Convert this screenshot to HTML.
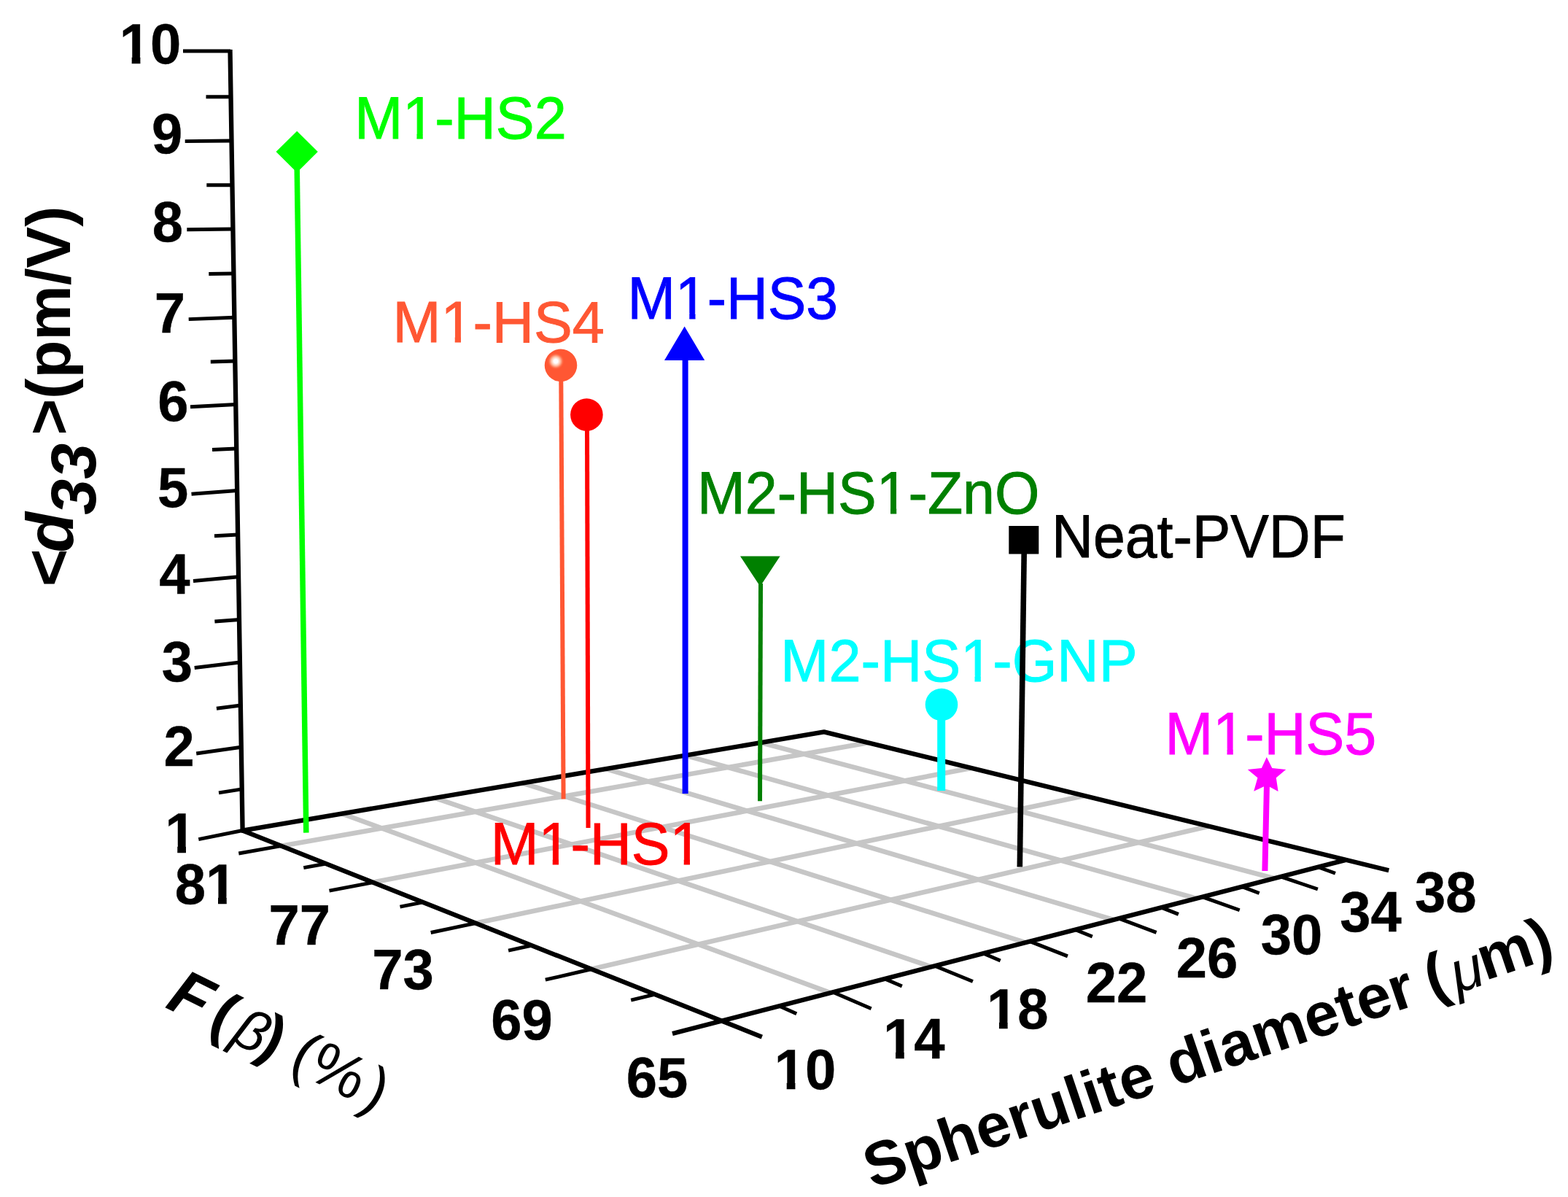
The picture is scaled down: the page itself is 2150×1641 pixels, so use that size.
<!DOCTYPE html>
<html lang="en">
<head>
<meta charset="utf-8">
<title>d33 vs F(beta) and spherulite diameter</title>
<style>
html,body{margin:0;padding:0;background:#ffffff;}
body{width:2150px;height:1641px;overflow:hidden;}
svg{display:block;}
text{white-space:pre;}
</style>
</head>
<body>
<svg width="2150" height="1641" viewBox="0 0 2150 1641">
<rect x="0" y="0" width="2150" height="1641" fill="#ffffff"/>
<defs><clipPath id="c0"><rect x="-60.00" y="-300.00" width="410.60" height="292.71"/><rect x="-60.00" y="3.17" width="410.60" height="116.83"/><rect x="-60.00" y="-7.29" width="128.38" height="10.46"/><rect x="85.34" y="-7.29" width="8.24" height="10.46"/><rect x="110.38" y="-7.29" width="240.23" height="10.46"/></clipPath><clipPath id="c1"><rect x="-60.00" y="-300.00" width="410.52" height="292.71"/><rect x="-60.00" y="3.17" width="410.52" height="116.83"/><rect x="-60.00" y="-7.29" width="128.36" height="10.46"/><rect x="85.31" y="-7.29" width="8.24" height="10.46"/><rect x="110.34" y="-7.29" width="240.17" height="10.46"/></clipPath><clipPath id="c2"><rect x="-60.00" y="-300.00" width="408.64" height="292.76"/><rect x="-60.00" y="3.15" width="408.64" height="116.85"/><rect x="-60.00" y="-7.24" width="127.92" height="10.39"/><rect x="84.76" y="-7.24" width="8.18" height="10.39"/><rect x="109.63" y="-7.24" width="239.01" height="10.39"/></clipPath><clipPath id="c3"><rect x="-60.00" y="-300.00" width="589.40" height="292.74"/><rect x="-60.00" y="3.16" width="589.40" height="116.84"/><rect x="-60.00" y="-7.26" width="308.01" height="10.42"/><rect x="264.91" y="-7.26" width="8.21" height="10.42"/><rect x="289.86" y="-7.26" width="239.54" height="10.42"/></clipPath><clipPath id="c4"><rect x="-60.00" y="-300.00" width="609.32" height="292.70"/><rect x="-60.00" y="3.17" width="609.32" height="116.83"/><rect x="-60.00" y="-7.30" width="309.23" height="10.47"/><rect x="266.20" y="-7.30" width="8.25" height="10.47"/><rect x="291.27" y="-7.30" width="258.04" height="10.47"/></clipPath><clipPath id="c5"><rect x="-60.00" y="-300.00" width="409.68" height="292.73"/><rect x="-60.00" y="3.16" width="409.68" height="116.84"/><rect x="-60.00" y="-7.27" width="128.16" height="10.43"/><rect x="85.07" y="-7.27" width="8.21" height="10.43"/><rect x="110.03" y="-7.27" width="239.65" height="10.43"/></clipPath><clipPath id="c6"><rect x="-60.00" y="-300.00" width="409.74" height="292.73"/><rect x="-60.00" y="3.16" width="409.74" height="116.84"/><rect x="-60.00" y="-7.27" width="128.18" height="10.43"/><rect x="85.08" y="-7.27" width="8.22" height="10.43"/><rect x="110.05" y="-7.27" width="138.12" height="10.43"/><rect x="265.07" y="-7.27" width="8.22" height="10.43"/><rect x="290.04" y="-7.27" width="59.70" height="10.43"/></clipPath><clipPath id="c7"><rect x="-60.00" y="-300.00" width="204.54" height="290.50"/><rect x="-60.00" y="3.04" width="204.54" height="116.96"/><rect x="-60.00" y="-9.50" width="62.28" height="12.54"/><rect x="17.02" y="-9.50" width="11.70" height="12.54"/><rect x="42.56" y="-9.50" width="101.98" height="12.54"/></clipPath><clipPath id="c8"><rect x="-60.00" y="-300.00" width="162.27" height="290.50"/><rect x="-60.00" y="3.04" width="162.27" height="116.96"/><rect x="-60.00" y="-9.50" width="62.28" height="12.54"/><rect x="17.02" y="-9.50" width="11.70" height="12.54"/><rect x="42.56" y="-9.50" width="59.71" height="12.54"/></clipPath><clipPath id="c9"><rect x="-60.00" y="-300.00" width="204.54" height="290.50"/><rect x="-60.00" y="3.04" width="204.54" height="116.96"/><rect x="-60.00" y="-9.50" width="104.55" height="12.54"/><rect x="59.29" y="-9.50" width="11.70" height="12.54"/><rect x="84.83" y="-9.50" width="59.71" height="12.54"/></clipPath><clipPath id="c10"><rect x="-60.00" y="-300.00" width="204.54" height="290.50"/><rect x="-60.00" y="3.04" width="204.54" height="116.96"/><rect x="-60.00" y="-9.50" width="62.28" height="12.54"/><rect x="17.02" y="-9.50" width="11.70" height="12.54"/><rect x="42.56" y="-9.50" width="101.98" height="12.54"/></clipPath><clipPath id="c11"><rect x="-60.00" y="-300.00" width="204.54" height="290.50"/><rect x="-60.00" y="3.04" width="204.54" height="116.96"/><rect x="-60.00" y="-9.50" width="62.28" height="12.54"/><rect x="17.02" y="-9.50" width="11.70" height="12.54"/><rect x="42.56" y="-9.50" width="101.98" height="12.54"/></clipPath><clipPath id="c12"><rect x="-60.00" y="-300.00" width="204.54" height="290.50"/><rect x="-60.00" y="3.04" width="204.54" height="116.96"/><rect x="-60.00" y="-9.50" width="62.28" height="12.54"/><rect x="17.02" y="-9.50" width="11.70" height="12.54"/><rect x="42.56" y="-9.50" width="101.98" height="12.54"/></clipPath></defs>
<g id="grid">
<line x1="385.8" y1="1159.7" x2="1190.4" y2="1018.2" stroke="#c6c6c6" stroke-width="6.6" stroke-linecap="butt"/>
<line x1="511.7" y1="1209.6" x2="1331.6" y2="1052.9" stroke="#c6c6c6" stroke-width="6.6" stroke-linecap="butt"/>
<line x1="652.6" y1="1265.5" x2="1486.7" y2="1090.9" stroke="#c6c6c6" stroke-width="6.6" stroke-linecap="butt"/>
<line x1="811.4" y1="1328.5" x2="1657.5" y2="1132.8" stroke="#c6c6c6" stroke-width="6.6" stroke-linecap="butt"/>
<line x1="1138.7" y1="1361.1" x2="468.9" y2="1115.5" stroke="#c6c6c6" stroke-width="6.6" stroke-linecap="butt"/>
<line x1="1276.9" y1="1325.5" x2="596.1" y2="1093.9" stroke="#c6c6c6" stroke-width="6.6" stroke-linecap="butt"/>
<line x1="1406.1" y1="1292.2" x2="716.6" y2="1073.5" stroke="#c6c6c6" stroke-width="6.6" stroke-linecap="butt"/>
<line x1="1527.0" y1="1261.0" x2="831.0" y2="1054.1" stroke="#c6c6c6" stroke-width="6.6" stroke-linecap="butt"/>
<line x1="1640.6" y1="1231.7" x2="939.7" y2="1035.6" stroke="#c6c6c6" stroke-width="6.6" stroke-linecap="butt"/>
<line x1="1747.3" y1="1204.2" x2="1043.1" y2="1018.1" stroke="#c6c6c6" stroke-width="6.6" stroke-linecap="butt"/>
</g>
<g id="axes" stroke="#000" fill="none">
<polyline points="315.5,68.0 332.6,1138.6 1129.9,1003.4 1904.3,1193.3" stroke-width="6.3" stroke-linejoin="round"/>
<line x1="332.6" y1="1138.6" x2="1044.8" y2="1421.6" stroke="#000" stroke-width="6.3" stroke-linecap="butt"/>
<line x1="922.0" y1="1417.0" x2="1845.4" y2="1178.9" stroke="#000" stroke-width="6.3" stroke-linecap="butt"/>
</g>
<g id="ticks">
<line x1="251.0" y1="70.0" x2="316.0" y2="70.0" stroke="#000" stroke-width="4.9" stroke-linecap="butt"/>
<line x1="253.7" y1="193.6" x2="317.5" y2="193.0" stroke="#000" stroke-width="4.9" stroke-linecap="butt"/>
<line x1="256.3" y1="314.7" x2="319.5" y2="314.0" stroke="#000" stroke-width="4.9" stroke-linecap="butt"/>
<line x1="258.7" y1="437.6" x2="321.4" y2="435.2" stroke="#000" stroke-width="4.9" stroke-linecap="butt"/>
<line x1="261.0" y1="557.8" x2="323.3" y2="554.5" stroke="#000" stroke-width="4.9" stroke-linecap="butt"/>
<line x1="262.5" y1="677.2" x2="325.2" y2="672.5" stroke="#000" stroke-width="4.9" stroke-linecap="butt"/>
<line x1="265.0" y1="796.5" x2="327.0" y2="790.8" stroke="#000" stroke-width="4.9" stroke-linecap="butt"/>
<line x1="266.7" y1="915.5" x2="329.0" y2="908.0" stroke="#000" stroke-width="4.9" stroke-linecap="butt"/>
<line x1="269.2" y1="1033.0" x2="330.8" y2="1024.3" stroke="#000" stroke-width="4.9" stroke-linecap="butt"/>
<line x1="272.3" y1="1150.7" x2="332.6" y2="1138.5" stroke="#000" stroke-width="4.9" stroke-linecap="butt"/>
<line x1="282.5" y1="132.7" x2="316.5" y2="132.7" stroke="#000" stroke-width="4.9" stroke-linecap="butt"/>
<line x1="283.3" y1="253.7" x2="318.5" y2="253.7" stroke="#000" stroke-width="4.9" stroke-linecap="butt"/>
<line x1="286.3" y1="375.5" x2="320.5" y2="375.0" stroke="#000" stroke-width="4.9" stroke-linecap="butt"/>
<line x1="288.8" y1="496.0" x2="322.3" y2="495.0" stroke="#000" stroke-width="4.9" stroke-linecap="butt"/>
<line x1="291.0" y1="616.5" x2="324.3" y2="615.0" stroke="#000" stroke-width="4.9" stroke-linecap="butt"/>
<line x1="294.0" y1="734.7" x2="326.0" y2="733.0" stroke="#000" stroke-width="4.9" stroke-linecap="butt"/>
<line x1="294.4" y1="852.0" x2="328.0" y2="849.5" stroke="#000" stroke-width="4.9" stroke-linecap="butt"/>
<line x1="296.9" y1="971.3" x2="330.0" y2="967.0" stroke="#000" stroke-width="4.9" stroke-linecap="butt"/>
<line x1="300.0" y1="1086.8" x2="331.6" y2="1081.8" stroke="#000" stroke-width="4.9" stroke-linecap="butt"/>
<line x1="385.8" y1="1159.7" x2="327.3" y2="1170.0" stroke="#000" stroke-width="4.9" stroke-linecap="butt"/>
<line x1="511.7" y1="1209.6" x2="451.5" y2="1221.2" stroke="#000" stroke-width="4.9" stroke-linecap="butt"/>
<line x1="652.6" y1="1265.5" x2="590.7" y2="1278.5" stroke="#000" stroke-width="4.9" stroke-linecap="butt"/>
<line x1="811.4" y1="1328.5" x2="747.8" y2="1343.2" stroke="#000" stroke-width="4.9" stroke-linecap="butt"/>
<line x1="447.1" y1="1184.0" x2="416.3" y2="1189.6" stroke="#000" stroke-width="4.9" stroke-linecap="butt"/>
<line x1="580.1" y1="1236.8" x2="548.5" y2="1243.1" stroke="#000" stroke-width="4.9" stroke-linecap="butt"/>
<line x1="729.6" y1="1296.0" x2="697.1" y2="1303.2" stroke="#000" stroke-width="4.9" stroke-linecap="butt"/>
<line x1="898.5" y1="1363.1" x2="865.2" y2="1371.2" stroke="#000" stroke-width="4.9" stroke-linecap="butt"/>
<line x1="1142.3" y1="1360.2" x2="1194.6" y2="1382.7" stroke="#000" stroke-width="4.9" stroke-linecap="butt"/>
<line x1="1281.9" y1="1324.2" x2="1333.9" y2="1345.6" stroke="#000" stroke-width="4.9" stroke-linecap="butt"/>
<line x1="1412.3" y1="1290.6" x2="1463.9" y2="1310.9" stroke="#000" stroke-width="4.9" stroke-linecap="butt"/>
<line x1="1534.3" y1="1259.1" x2="1585.6" y2="1278.4" stroke="#000" stroke-width="4.9" stroke-linecap="butt"/>
<line x1="1648.7" y1="1229.6" x2="1699.7" y2="1247.8" stroke="#000" stroke-width="4.9" stroke-linecap="butt"/>
<line x1="1756.2" y1="1201.9" x2="1806.9" y2="1219.0" stroke="#000" stroke-width="4.9" stroke-linecap="butt"/>
<line x1="1068.7" y1="1379.2" x2="1092.2" y2="1389.7" stroke="#000" stroke-width="4.9" stroke-linecap="butt"/>
<line x1="1213.3" y1="1341.9" x2="1236.8" y2="1352.1" stroke="#000" stroke-width="4.9" stroke-linecap="butt"/>
<line x1="1348.2" y1="1307.1" x2="1371.7" y2="1317.0" stroke="#000" stroke-width="4.9" stroke-linecap="butt"/>
<line x1="1474.3" y1="1274.6" x2="1497.8" y2="1284.1" stroke="#000" stroke-width="4.9" stroke-linecap="butt"/>
<line x1="1592.4" y1="1244.1" x2="1615.9" y2="1253.4" stroke="#000" stroke-width="4.9" stroke-linecap="butt"/>
<line x1="1703.2" y1="1215.6" x2="1726.7" y2="1224.5" stroke="#000" stroke-width="4.9" stroke-linecap="butt"/>
<line x1="1807.5" y1="1188.7" x2="1831.0" y2="1197.3" stroke="#000" stroke-width="4.9" stroke-linecap="butt"/>
</g>
<defs><radialGradient id="ball" cx="0.345" cy="0.375" r="0.5" fx="0.345" fy="0.375"><stop offset="0" stop-color="#ffffff"/><stop offset="0.12" stop-color="#ffffff"/><stop offset="0.26" stop-color="#ffc9b0"/><stop offset="0.42" stop-color="#ff6a45"/><stop offset="0.5" stop-color="#ff5733"/><stop offset="1" stop-color="#ff5733"/></radialGradient></defs>
<g id="data">
<line x1="407.2" y1="230.0" x2="419.8" y2="1141.6" stroke="#00ff00" stroke-width="7.5" stroke-linecap="butt"/>
<polygon points="407.2,179.8 435.8,208 407.2,236.5 378.5,208" fill="#00ff00"/>
<line x1="769.3" y1="520.0" x2="772.6" y2="1095.5" stroke="#ff5733" stroke-width="6" stroke-linecap="butt"/>
<circle cx="769" cy="500.8" r="22.3" fill="url(#ball)"/>
<line x1="805.0" y1="588.0" x2="806.5" y2="1135.0" stroke="#ff0000" stroke-width="6" stroke-linecap="butt"/>
<circle cx="804.4" cy="568.6" r="22.3" fill="#ff0000"/>
<line x1="939.6" y1="492.0" x2="939.6" y2="1088.0" stroke="#0000ff" stroke-width="8" stroke-linecap="butt"/>
<polygon points="938.6,447.5 966.2,494 911,494" fill="#0000ff"/>
<line x1="1043.0" y1="800.0" x2="1042.0" y2="1098.2" stroke="#008000" stroke-width="6" stroke-linecap="butt"/>
<polygon points="1015,762.6 1069.6,762.6 1042.3,804" fill="#008000"/>
<line x1="1290.7" y1="985.0" x2="1290.7" y2="1084.0" stroke="#00ffff" stroke-width="11" stroke-linecap="butt"/>
<circle cx="1291" cy="966" r="22.3" fill="#00ffff"/>
<line x1="1737.0" y1="1075.0" x2="1734.4" y2="1194.0" stroke="#ff00ff" stroke-width="8" stroke-linecap="butt"/>
<polygon points="1736.8,1038.0 1744.3,1052.9 1763.2,1055.0 1749.8,1066.3 1752.6,1085.0 1736.8,1076.6 1719.2,1084.8 1724.4,1066.3 1710.8,1055.0 1729.9,1052.9" fill="#ff00ff"/>
</g>
<g id="labels" font-family="'Liberation Sans', Arial, Helvetica, sans-serif">
<text transform="translate(486.16 190.39) scale(1 1.0221)" font-size="79.24" fill="#00ff00" stroke="#00ff00" stroke-width="0.9" clip-path="url(#c0)">M1-HS2</text>
<text transform="translate(538.46 468.89) scale(1 1.0171)" font-size="79.21" fill="#ff5733" stroke="#ff5733" stroke-width="0.9" clip-path="url(#c1)">M1-HS4</text>
<text transform="translate(860.51 436.69) scale(1 1.0291)" font-size="78.70" fill="#0000ff" stroke="#0000ff" stroke-width="0.9" clip-path="url(#c2)">M1-HS3</text>
<text transform="translate(956.09 704.18) scale(1 1.0348)" font-size="78.95" fill="#008000" stroke="#008000" stroke-width="0.9" clip-path="url(#c3)">M2-HS1-ZnO</text>
<text transform="translate(1070.35 933.68) scale(1 1.0369)" font-size="79.34" fill="#00ffff" stroke="#00ffff" stroke-width="0.9" clip-path="url(#c4)">M2-HS1-GNP</text>
<text transform="translate(1597.48 1034.19) scale(1 1.0254)" font-size="78.98" fill="#ff00ff" stroke="#ff00ff" stroke-width="0.9" clip-path="url(#c5)">M1-HS5</text>
<text transform="translate(672.68 1185.09) scale(1 1.0300)" font-size="79.00" fill="#ff0000" stroke="#ff0000" stroke-width="0.9" clip-path="url(#c6)">M1-HS1</text>
</g>
<g id="neat">
<line x1="1404.2" y1="758.0" x2="1398.3" y2="1188.5" stroke="#000" stroke-width="7.6" stroke-linecap="butt"/>
<rect x="1383.3" y="721" width="41" height="38.5" fill="#000"/>
</g>
<g id="neatlabel" font-family="'Liberation Sans', Arial, Helvetica, sans-serif">
<text transform="translate(1442.00 764.47) scale(1 1.0514)" font-size="78.82" fill="#000" stroke="#000" stroke-width="0.9">Neat-PVDF</text>
</g>
<g id="ticklabels" font-family="'Liberation Sans', Arial, Helvetica, sans-serif">
<text transform="translate(163.68 86.72) scale(1 1.0300)" font-size="76.00" font-weight="bold" fill="#000" stroke="#000" stroke-width="0.4" clip-path="url(#c7)">10</text>
<text transform="translate(207.88 209.72) scale(1 1.0300)" font-size="76.00" font-weight="bold" fill="#000" stroke="#000" stroke-width="0.4">9</text>
<text transform="translate(208.70 331.42) scale(1 1.0300)" font-size="76.00" font-weight="bold" fill="#000" stroke="#000" stroke-width="0.4">8</text>
<text transform="translate(211.75 455.70) scale(1 1.0300)" font-size="76.00" font-weight="bold" fill="#000" stroke="#000" stroke-width="0.4">7</text>
<text transform="translate(216.18 576.72) scale(1 1.0300)" font-size="76.00" font-weight="bold" fill="#000" stroke="#000" stroke-width="0.4">6</text>
<text transform="translate(215.91 695.02) scale(1 1.0300)" font-size="76.00" font-weight="bold" fill="#000" stroke="#000" stroke-width="0.4">5</text>
<text transform="translate(218.20 813.70) scale(1 1.0300)" font-size="76.00" font-weight="bold" fill="#000" stroke="#000" stroke-width="0.4">4</text>
<text transform="translate(221.68 933.52) scale(1 1.0300)" font-size="76.00" font-weight="bold" fill="#000" stroke="#000" stroke-width="0.4">3</text>
<text transform="translate(224.56 1050.40) scale(1 1.0300)" font-size="76.00" font-weight="bold" fill="#000" stroke="#000" stroke-width="0.4">2</text>
<text transform="translate(226.25 1168.50) scale(1 1.0300)" font-size="76.00" font-weight="bold" fill="#000" stroke="#000" stroke-width="0.4" clip-path="url(#c8)">1</text>
<text transform="translate(239.73 1238.92) scale(1 1.0300)" font-size="76.00" font-weight="bold" fill="#000" stroke="#000" stroke-width="0.4" clip-path="url(#c9)">81</text>
<text transform="translate(368.47 1294.60) scale(1 1.0300)" font-size="76.00" font-weight="bold" fill="#000" stroke="#000" stroke-width="0.4">77</text>
<text transform="translate(510.30 1356.22) scale(1 1.0300)" font-size="76.00" font-weight="bold" fill="#000" stroke="#000" stroke-width="0.4">73</text>
<text transform="translate(673.30 1425.42) scale(1 1.0300)" font-size="76.00" font-weight="bold" fill="#000" stroke="#000" stroke-width="0.4">69</text>
<text transform="translate(858.73 1503.92) scale(1 1.0300)" font-size="76.00" font-weight="bold" fill="#000" stroke="#000" stroke-width="0.4">65</text>
<text transform="translate(1061.68 1492.72) scale(1 1.0300)" font-size="76.00" font-weight="bold" fill="#000" stroke="#000" stroke-width="0.4" clip-path="url(#c10)">10</text>
<text transform="translate(1211.02 1451.20) scale(1 1.0300)" font-size="76.00" font-weight="bold" fill="#000" stroke="#000" stroke-width="0.4" clip-path="url(#c11)">14</text>
<text transform="translate(1352.92 1410.42) scale(1 1.0300)" font-size="76.00" font-weight="bold" fill="#000" stroke="#000" stroke-width="0.4" clip-path="url(#c12)">18</text>
<text transform="translate(1488.68 1374.20) scale(1 1.0300)" font-size="76.00" font-weight="bold" fill="#000" stroke="#000" stroke-width="0.4">22</text>
<text transform="translate(1612.80 1340.32) scale(1 1.0300)" font-size="76.00" font-weight="bold" fill="#000" stroke="#000" stroke-width="0.4">26</text>
<text transform="translate(1728.68 1307.82) scale(1 1.0300)" font-size="76.00" font-weight="bold" fill="#000" stroke="#000" stroke-width="0.4">30</text>
<text transform="translate(1837.32 1277.22) scale(1 1.0300)" font-size="76.00" font-weight="bold" fill="#000" stroke="#000" stroke-width="0.4">34</text>
<text transform="translate(1940.12 1249.82) scale(1 1.0300)" font-size="76.00" font-weight="bold" fill="#000" stroke="#000" stroke-width="0.4">38</text>
</g>
<g id="titles" font-family="'Liberation Sans', Arial, Helvetica, sans-serif">
<text transform="translate(96.88 805.99) rotate(-90.00)" font-size="84" fill="#000"><tspan x="0.00" y="0.00" font-size="89.00" font-weight="bold" font-style="italic">&lt;</tspan><tspan x="48.15" y="3.46" font-size="91.00" font-weight="bold" font-style="italic">d</tspan><tspan x="100.27" y="34.18" font-size="88.00" font-weight="bold" font-style="italic">33</tspan><tspan x="209.48" y="-0.53" font-size="85.00" font-weight="bold" font-style="normal">&gt;(pm/V)</tspan></text>
<text transform="translate(1196.07 1629.81) rotate(-18.70)" font-size="84" fill="#000"><tspan x="0.00" y="0.00" font-size="84.70" font-weight="bold" font-style="normal">Spherulite diameter </tspan><tspan x="810.87" y="-0.46" font-size="84.70" font-weight="bold" font-style="normal">(</tspan><tspan x="845.61" y="3.62" font-size="80.00" font-weight="normal" font-style="italic">μ</tspan><tspan x="887.52" y="-0.82" font-size="84.70" font-weight="bold" font-style="normal">m)</tspan></text>
<text transform="translate(224.88 1380.53) rotate(26.40)" font-size="84" fill="#000"><tspan x="0.00" y="0.00" font-size="88.00" font-weight="bold" font-style="italic">F</tspan><tspan x="65.25" y="0.57" font-size="84.00" font-weight="bold" font-style="normal">(</tspan><tspan x="100.58" y="1.90" font-size="77.00" font-weight="normal" font-style="italic">β</tspan><tspan x="139.20" y="-0.59" font-size="84.00" font-weight="bold" font-style="normal">) </tspan><tspan x="188.45" y="-0.46" font-size="84.00" font-weight="normal" font-style="normal">(</tspan><tspan x="216.49" y="0.15" font-size="84.00" font-weight="normal" font-style="normal">%</tspan><tspan x="297.66" y="0.63" font-size="84.00" font-weight="normal" font-style="normal">)</tspan></text>
</g>
</svg>
</body>
</html>
